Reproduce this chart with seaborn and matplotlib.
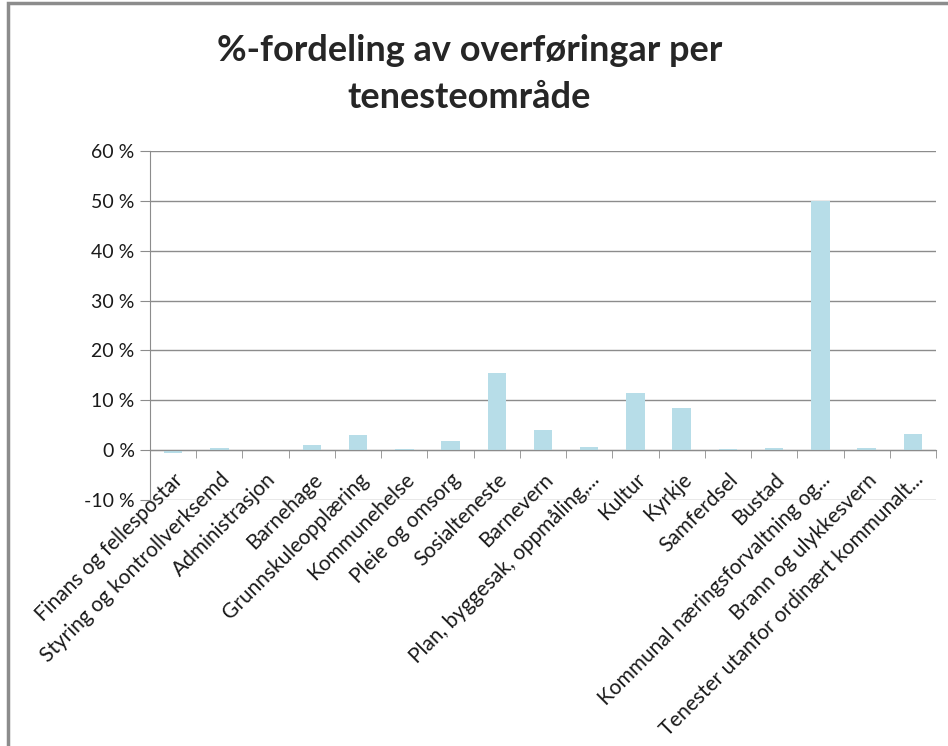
import matplotlib
matplotlib.use("Agg")
import matplotlib.pyplot as plt
from matplotlib.patches import Rectangle
from matplotlib.ticker import FuncFormatter, FixedLocator
import pandas as pd
import seaborn as sns

# kategoriar og verdiar (prosent)
kategoriar = [
    "Finans og fellespostar",
    "Styring og kontrollverksemd",
    "Administrasjon",
    "Barnehage",
    "Grunnskuleopplæring",
    "Kommunehelse",
    "Pleie og omsorg",
    "Sosialteneste",
    "Barnevern",
    "Plan, byggesak, oppmåling,...",
    "Kultur",
    "Kyrkje",
    "Samferdsel",
    "Bustad",
    "Kommunal næringsforvaltning og...",
    "Brann og ulykkesvern",
    "Tenester utanfor ordinært kommunalt...",
]
verdiar = [-0.5, 0.5, 0.0, 1.0, 3.0, 0.3, 1.8, 15.5, 4.0, 0.7,
           11.5, 8.5, 0.3, 0.5, 50.0, 0.5, 3.3]

df = pd.DataFrame({"kategori": kategoriar, "andel": verdiar})

sns.set_style("white")
plt.rcParams["font.family"] = ["Lato", "DejaVu Sans"]

fig = plt.figure(figsize=(9.48, 7.46), dpi=100)
ax = fig.add_axes([150 / 948, 1 - 500 / 746, (936 - 150) / 948, (500 - 151) / 746])

sns.barplot(data=df, x="kategori", y="andel", color="#B7DDE8",
            width=0.4, saturation=1, edgecolor="none", ax=ax)

ax.set_xlim(-0.5, len(kategoriar) - 0.5)
ax.set_ylim(-10, 60)
ax.set_yticks(range(-10, 61, 10))
ax.yaxis.set_major_formatter(FuncFormatter(lambda v, p: f"{v:.0f} %"))
ax.grid(axis="y", color="#8C8C8C", linewidth=1.0)
ax.set_axisbelow(True)

for s in ["top", "right"]:
    ax.spines[s].set_visible(False)
ax.spines["left"].set_color("#8C8C8C")
ax.spines["bottom"].set_color("#8C8C8C")
ax.spines["bottom"].set_position(("data", 0))

ax.tick_params(axis="y", length=7, color="#8C8C8C", labelsize=14,
               labelcolor="#1a1a1a", pad=4, left=True)
ax.xaxis.set_minor_locator(FixedLocator([i - 0.5 for i in range(len(kategoriar) + 1)]))
ax.tick_params(axis="x", which="minor", length=6, color="#8C8C8C", bottom=True)
ax.tick_params(axis="x", which="major", length=0, pad=14, labelsize=15,
               labelcolor="#1a1a1a")
for lbl in ax.get_xticklabels():
    lbl.set_rotation(45)
    lbl.set_ha("right")
    lbl.set_rotation_mode("anchor")

ax.set_xlabel("")
ax.set_ylabel("")

fig.suptitle("%-fordeling av overføringar per\ntenesteområde", y=0.955,
             x=0.495, fontsize=26, fontweight="bold", linespacing=1.55)

# ramme rundt diagrammet
fig.patches.append(Rectangle((8 / 948, -0.1), 2, 1.1 - 3 / 746,
                             transform=fig.transFigure, fill=False,
                             edgecolor="#8C8C8C", linewidth=2.5))

fig.savefig("out.png", dpi=100)
